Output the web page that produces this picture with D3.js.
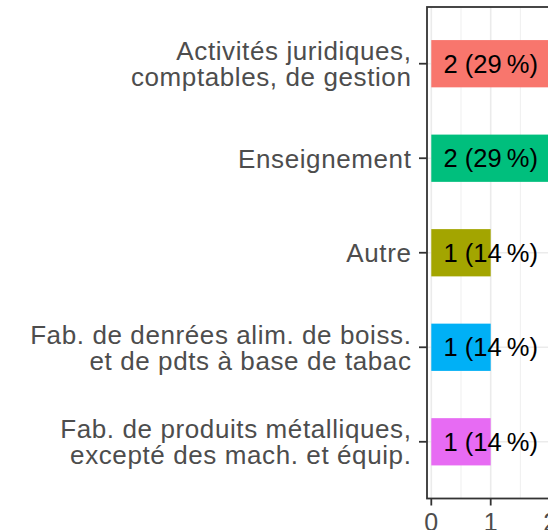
<!DOCTYPE html>
<html>
<head>
<meta charset="utf-8">
<script src="https://cdn.jsdelivr.net/npm/d3@7"></script>
<style>
  html, body { margin: 0; padding: 0; background: #fff; }
  svg { display: block; font-family: "Liberation Sans", Arial, sans-serif; }
</style>
</head>
<body>
<svg id="chart" width="548" height="530"></svg>
<script>
// Data
const categories = [
  ["Activités juridiques,", "comptables, de gestion"],
  ["Enseignement"],
  ["Autre"],
  ["Fab. de denrées alim. de boiss.", "et de pdts à base de tabac"],
  ["Fab. de produits métalliques,", "excepté des mach. et équip."]
];
const counts = [2, 2, 1, 1, 1];
const percents = [29, 29, 14, 14, 14];
const colors = ["#F8766D", "#00BF7D", "#A3A500", "#00B0F6", "#E76BF3"];
const xTicks = [0, 1, 2];
const xMinorTicks = [0.5, 1.5];

const svg = d3.select("#chart");
const panel = { left: 427, top: 7, right: 620, bottom: 498.5 };

const x = d3.scaleLinear().domain([0, 1]).range([431.3, 490.7]);
const ids = categories.map((d, i) => i);
const step = (panel.bottom - panel.top) / (ids.length - 1 + 1.2);
const y = d3.scalePoint().domain(ids)
  .range([panel.top + 0.6 * step, panel.bottom - 0.6 * step]);
const barH = step * 0.5;

// Grid
const grid = svg.append("g");
grid.selectAll("line.minor").data(xMinorTicks).join("line")
  .attr("x1", d => x(d)).attr("x2", d => x(d))
  .attr("y1", panel.top).attr("y2", panel.bottom)
  .attr("stroke", "#EBEBEB").attr("stroke-width", 0.8);
grid.selectAll("line.major").data(xTicks).join("line")
  .attr("x1", d => x(d)).attr("x2", d => x(d))
  .attr("y1", panel.top).attr("y2", panel.bottom)
  .attr("stroke", "#EBEBEB").attr("stroke-width", 1.6);
grid.selectAll("line.hmajor").data(ids).join("line")
  .attr("x1", panel.left).attr("x2", panel.right)
  .attr("y1", d => y(d)).attr("y2", d => y(d))
  .attr("stroke", "#EBEBEB").attr("stroke-width", 1.6);

// Bars
svg.append("g").selectAll("rect").data(ids).join("rect")
  .attr("x", x(0))
  .attr("y", d => y(d) - barH / 2)
  .attr("width", d => x(counts[d]) - x(0))
  .attr("height", barH)
  .attr("fill", d => colors[d]);

// Bar labels
const labelX = d3.max(counts) / 2;
svg.append("g").selectAll("text").data(ids).join("text")
  .attr("x", x(labelX))
  .attr("y", d => y(d))
  .attr("dy", "0.36em")
  .attr("text-anchor", "middle")
  .attr("font-size", 25.5)
  .attr("fill", "#000")
  .text(d => `${counts[d]} (${percents[d]}\u202F%)`);

// Panel border
svg.append("rect")
  .attr("x", panel.left).attr("y", panel.top)
  .attr("width", panel.right - panel.left).attr("height", panel.bottom - panel.top)
  .attr("fill", "none").attr("stroke", "#333333").attr("stroke-width", 1.8);

// Y axis ticks & labels
const yAx = svg.append("g");
yAx.selectAll("line").data(ids).join("line")
  .attr("x1", panel.left - 8).attr("x2", panel.left)
  .attr("y1", d => y(d)).attr("y2", d => y(d))
  .attr("stroke", "#333333").attr("stroke-width", 1.8);
const fs = 26;
const lh = 26;
yAx.selectAll("text").data(ids).join("text")
  .attr("text-anchor", "end")
  .attr("font-size", fs)
  .attr("letter-spacing", 0.6)
  .attr("fill", "#4D4D4D")
  .each(function(d) {
    const lines = categories[d];
    const n = lines.length;
    d3.select(this).selectAll("tspan").data(lines).join("tspan")
      .attr("x", 411.5)
      .attr("y", (l, i) => y(d) + (i - (n - 1) / 2) * lh)
      .attr("dy", "0.36em")
      .text(l => l);
  });

// X axis ticks & labels
const xAx = svg.append("g");
xAx.selectAll("line").data(xTicks).join("line")
  .attr("x1", d => x(d)).attr("x2", d => x(d))
  .attr("y1", panel.bottom).attr("y2", panel.bottom + 7)
  .attr("stroke", "#333333").attr("stroke-width", 1.8);
xAx.selectAll("text").data(xTicks).join("text")
  .attr("x", d => x(d)).attr("y", 530.5)
  .attr("text-anchor", "middle")
  .attr("font-size", 25)
  .attr("fill", "#4D4D4D")
  .text(d => d);
</script>
</body>
</html>
